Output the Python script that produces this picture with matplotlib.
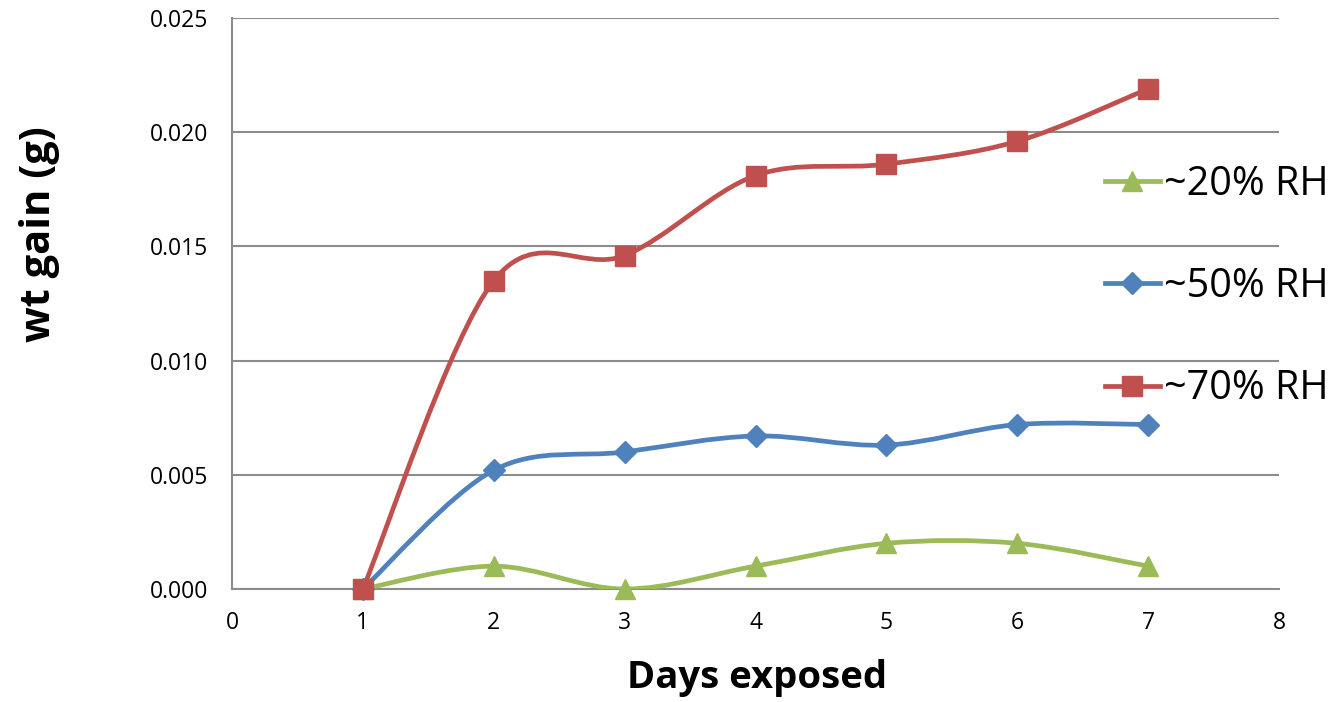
import numpy as np
import matplotlib
matplotlib.use("Agg")
import matplotlib.pyplot as plt
from matplotlib.path import Path
from matplotlib.patches import PathPatch
from matplotlib.lines import Line2D

plt.rcParams['font.family'] = ['Open Sans', 'DejaVu Sans']

days = [1, 2, 3, 4, 5, 6, 7]
rh20 = [0.000, 0.001, 0.000, 0.001, 0.002, 0.002, 0.001]
rh50 = [0.0000, 0.0052, 0.0060, 0.0067, 0.0063, 0.0072, 0.0072]
rh70 = [0.0000, 0.0135, 0.0146, 0.0181, 0.0186, 0.0196, 0.0219]
labels = ["~20% RH", "~50% RH", "~70% RH"]

GREEN = "#9BBB59"
BLUE = "#4F81BD"
RED = "#C0504D"
GRID = "#8C8C8C"

W, H = 1342, 702


def smooth_path(x, y):
    """Cubic Bezier through the points, Catmull-Rom style tangents."""
    pts = np.column_stack([x, y]).astype(float)
    n = len(pts)
    verts = [pts[0]]
    codes = [Path.MOVETO]
    for i in range(n - 1):
        p0 = pts[i - 1] if i > 0 else pts[i]
        p1 = pts[i]
        p2 = pts[i + 1]
        p3 = pts[i + 2] if i + 2 < n else pts[i + 1]
        c1 = p1 + (p2 - p0) / 6.0
        c2 = p2 - (p3 - p1) / 6.0
        verts += [c1, c2, p2]
        codes += [Path.CURVE4] * 3
    return Path(verts, codes)


fig = plt.figure(figsize=(W / 100, H / 100), dpi=100)
ax = fig.add_axes([232 / W, 1 - 589 / H, (1279 - 232) / W, (589 - 18) / H])

series = [
    (rh20, GREEN, "^", 15),
    (rh50, BLUE, "D", 11),
    (rh70, RED, "s", 14),
]
handles = []
for (vals, color, marker, ms), lab in zip(series, labels):
    patch = PathPatch(smooth_path(days, vals), facecolor="none", edgecolor=color,
                      lw=3.4, capstyle="round", joinstyle="round", zorder=3)
    ax.add_patch(patch)
    ax.plot(days, vals, linestyle="none", marker=marker, ms=ms, color=color,
            markeredgecolor=color, zorder=4, clip_on=False)
    handles.append(Line2D([], [], color=color, lw=3.4, marker=marker,
                          ms=ms, markeredgecolor=color))

ax.set_xlim(0, 8)
ax.set_ylim(0, 0.025)
ax.set_xticks(range(0, 9))
ax.set_yticks(np.arange(0, 0.0251, 0.005))
ax.yaxis.set_major_formatter(matplotlib.ticker.FormatStrFormatter("%.3f"))
ax.tick_params(length=0, labelsize=16.5, colors="black")
ax.tick_params(axis="x", pad=16)
ax.tick_params(axis="y", pad=17)

ax.grid(axis="y", color=GRID, lw=1.5)
ax.set_axisbelow(True)
for side in ["top", "right"]:
    ax.spines[side].set_visible(False)
for side in ["left", "bottom"]:
    ax.spines[side].set_color(GRID)
    ax.spines[side].set_linewidth(1.5)

fig.text(757 / W, 1 - 678 / H, "Days exposed", fontsize=27.5, fontweight="bold",
         ha="center", va="center")
fig.text(40 / W, 1 - 234 / H, "wt gain (g)", fontsize=30, fontweight="bold",
         ha="center", va="center", rotation=90)

fig.legend(handles, labels, loc="center left", bbox_to_anchor=(1105 / W, 1 - 287 / H),
           frameon=False, fontsize=28.5, handlelength=1.38, handletextpad=0.11,
           labelspacing=1.56, borderaxespad=0, borderpad=0)

fig.savefig("out.png", dpi=100)
